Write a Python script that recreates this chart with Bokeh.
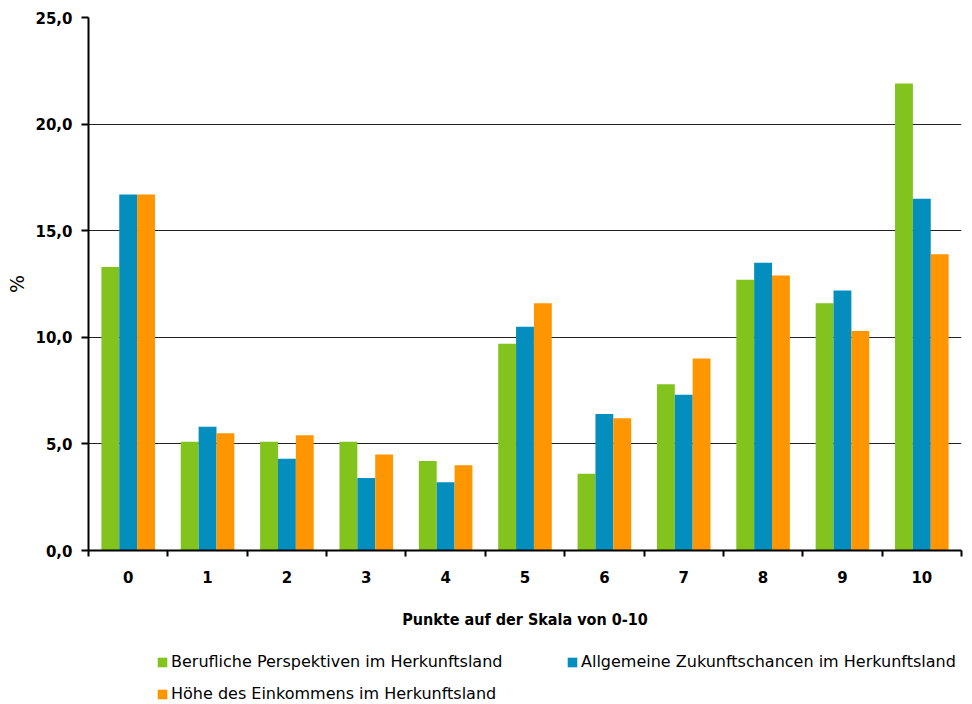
from bokeh.plotting import figure
from bokeh.layouts import column
from bokeh.models import (ColumnDataSource, Range1d, FixedTicker, CustomJSTickFormatter,
                          Legend, LegendItem, LinearAxis)
from bokeh.transform import dodge
from bokeh.embed import file_html
from bokeh.resources import INLINE

categories = ["0", "1", "2", "3", "4", "5", "6", "7", "8", "9", "10"]
berufliche = [13.3, 5.1, 5.1, 5.1, 4.2, 9.7, 3.6, 7.8, 12.7, 11.6, 21.9]
allgemeine = [16.7, 5.8, 4.3, 3.4, 3.2, 10.5, 6.4, 7.3, 13.5, 12.2, 16.5]
einkommen = [16.7, 5.5, 5.4, 4.5, 4.0, 11.6, 6.2, 9.0, 12.9, 10.3, 13.9]
series_names = ["Berufliche Perspektiven im Herkunftsland",
                "Allgemeine Zukunftschancen im Herkunftsland",
                "Höhe des Einkommens im Herkunftsland"]
colors = ["#82C31E", "#038EBD", "#FF9600"]
y_ticks = [0, 5, 10, 15, 20, 25]

src = ColumnDataSource(dict(
    x=[i + 0.5 for i in range(len(categories))],
    a=berufliche, b=allgemeine, c=einkommen))

W = 964
p = figure(width=W, height=631, output_backend="svg", toolbar_location=None,
           x_range=Range1d(0, len(categories)), y_range=Range1d(0, 25),
           min_border_left=88, min_border_top=17, min_border_right=3, min_border_bottom=81,
           x_axis_location=None, y_axis_location=None)
p.outline_line_color = None
p.background_fill_color = "white"

bw = 0.225
r1 = p.vbar(x=dodge("x", -bw, range=p.x_range), top="a", width=bw, source=src,
            fill_color=colors[0], line_color=None)
r2 = p.vbar(x="x", top="b", width=bw, source=src, fill_color=colors[1], line_color=None)
r3 = p.vbar(x=dodge("x", bw, range=p.x_range), top="c", width=bw, source=src,
            fill_color=colors[2], line_color=None)

tick_font = "DejaVu Sans"
cond_font = "DejaVu Sans Condensed"

yaxis = LinearAxis(ticker=FixedTicker(ticks=y_ticks),
                   formatter=CustomJSTickFormatter(code="return tick.toFixed(1).replace('.', ',');"),
                   axis_label="%")
yaxis.axis_line_width = 2
yaxis.axis_line_color = "black"
yaxis.major_tick_out = 7
yaxis.major_tick_in = 0
yaxis.major_tick_line_width = 2
yaxis.minor_tick_line_color = None
yaxis.major_label_text_font = tick_font
yaxis.major_label_text_font_style = "bold"
yaxis.major_label_text_font_size = "15px"
yaxis.major_label_text_color = "black"
yaxis.major_label_standoff = 9
yaxis.axis_label_text_font = tick_font
yaxis.axis_label_text_font_style = "normal"
yaxis.axis_label_text_font_size = "19px"
yaxis.axis_label_text_color = "black"
yaxis.axis_label_standoff = 4
p.add_layout(yaxis, "left")

xaxis = LinearAxis(ticker=FixedTicker(ticks=[i + 0.5 for i in range(len(categories))],
                                      minor_ticks=list(range(len(categories) + 1))),
                   formatter=CustomJSTickFormatter(args=dict(labels=categories),
                                                   code="return labels[Math.floor(tick)];"),
                   axis_label="Punkte auf der Skala von 0-10")
xaxis.axis_line_width = 2
xaxis.axis_line_color = "black"
xaxis.major_tick_out = 0
xaxis.major_tick_in = 0
xaxis.minor_tick_out = 6
xaxis.minor_tick_in = 0
xaxis.minor_tick_line_width = 2
xaxis.minor_tick_line_color = "black"
xaxis.major_label_text_font = tick_font
xaxis.major_label_text_font_style = "bold"
xaxis.major_label_text_font_size = "15px"
xaxis.major_label_text_color = "black"
xaxis.major_label_standoff = 14
xaxis.axis_label_text_font = cond_font
xaxis.axis_label_text_font_style = "bold"
xaxis.axis_label_text_font_size = "16px"
xaxis.axis_label_text_color = "black"
xaxis.axis_label_standoff = 24
p.add_layout(xaxis, "below")

p.xgrid.visible = False
p.ygrid.ticker = FixedTicker(ticks=y_ticks)
p.ygrid.grid_line_color = "#222222"
p.ygrid.grid_line_width = 1.2

# legend in its own strip below the chart (frames are aligned by the column)
lg = figure(width=W, height=73, output_backend="svg", toolbar_location=None,
            x_range=Range1d(0, 1), y_range=Range1d(0, 1),
            min_border_left=0, min_border_top=0, min_border_right=0, min_border_bottom=0,
            x_axis_location=None, y_axis_location=None)
lg.outline_line_color = None
lg.xgrid.visible = False
lg.ygrid.visible = False
hidden = ColumnDataSource(dict(x=[0.5], top=[0.5], bottom=[0.5]))
lr = [lg.vbar(x="x", top="top", bottom="bottom", width=0.0, source=hidden,
              fill_color=c, line_color=None)
      for c in colors]
legend = Legend(items=[LegendItem(label=n, renderers=[r]) for n, r in zip(series_names, lr)],
                orientation="horizontal", ncols=2, location=(68, 1))
legend.label_text_font = tick_font
legend.label_text_font_size = "16px"
legend.label_text_color = "black"
legend.glyph_width = 12
legend.glyph_height = 12
legend.label_standoff = 3
legend.label_height = 16
legend.label_width = 382
legend.spacing = 13
legend.padding = 2
legend.margin = 0
legend.border_line_color = None
legend.background_fill_alpha = 0
lg.add_layout(legend, "center")

layout = column(p, lg, spacing=0)

with open("out.html", "w") as f:
    f.write(file_html(layout, INLINE))
